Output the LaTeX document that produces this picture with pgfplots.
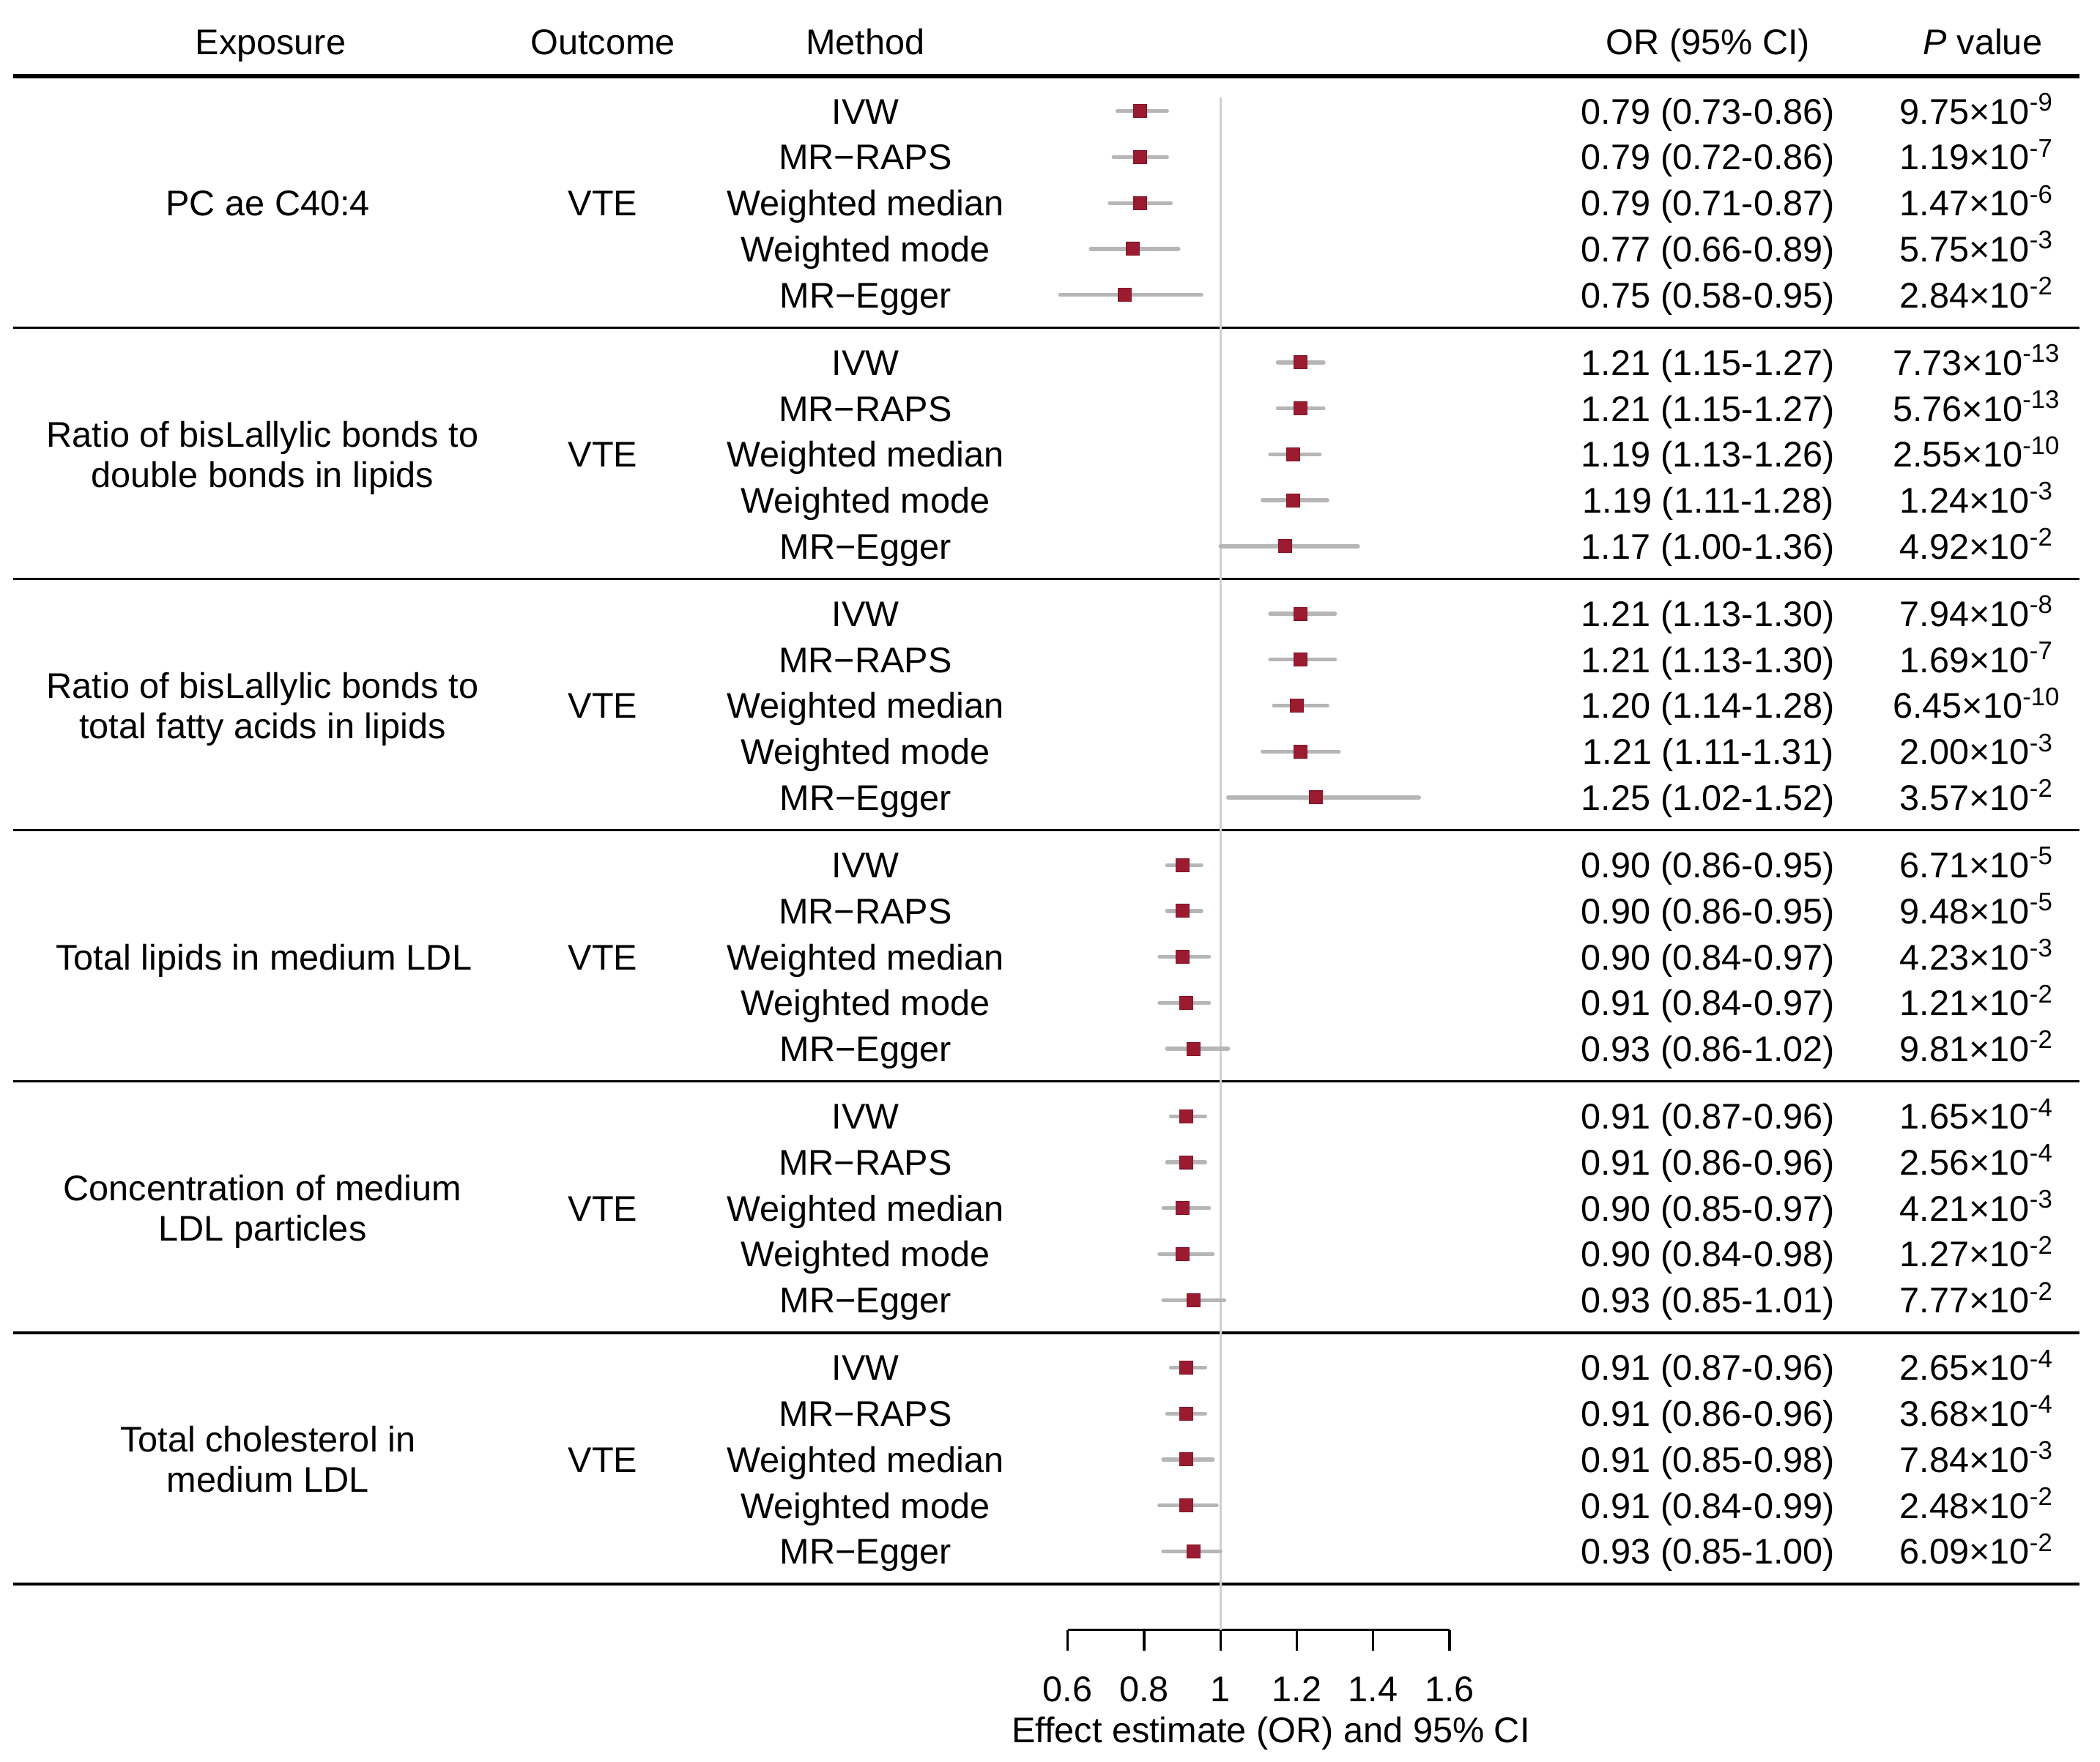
\documentclass[border=0pt]{standalone}
\usepackage{fontspec}
\setmainfont{Liberation Sans}
\usepackage{pgfplots}
\pgfplotsset{compat=1.18}
\usepackage{pgfplotstable}

\definecolor{ptred}{RGB}{155,27,48}
\definecolor{cigrey}{RGB}{182,182,182}
\definecolor{refgrey}{RGB}{208,208,208}

% superscript exponent for the p values
\newcommand{\sps}[1]{\raisebox{4.8pt}{\fontsize{9.5}{10}\selectfont #1}}
\newcommand{\pv}[2]{#1×10\sps{-#2}}

% row position (px from top, row centre), OR, lower and upper CI
\pgfplotstableread{
y       or    lo    hi
-83.0   0.79  0.73  0.86
-117.3  0.79  0.72  0.86
-151.6  0.79  0.71  0.87
-185.9  0.77  0.66  0.89
-220.2  0.75  0.58  0.95
-270.6  1.21  1.15  1.27
-304.9  1.21  1.15  1.27
-339.2  1.19  1.13  1.26
-373.5  1.19  1.11  1.28
-407.8  1.17  1.00  1.36
-458.2  1.21  1.13  1.30
-492.5  1.21  1.13  1.30
-526.8  1.20  1.14  1.28
-561.1  1.21  1.11  1.31
-595.4  1.25  1.02  1.52
-645.8  0.90  0.86  0.95
-680.1  0.90  0.86  0.95
-714.4  0.90  0.84  0.97
-748.7  0.91  0.84  0.97
-783.0  0.93  0.86  1.02
-833.4  0.91  0.87  0.96
-867.7  0.91  0.86  0.96
-902.0  0.90  0.85  0.97
-936.3  0.90  0.84  0.98
-970.6  0.93  0.85  1.01
-1021.0 0.91  0.87  0.96
-1055.3 0.91  0.86  0.96
-1089.6 0.91  0.85  0.98
-1123.9 0.91  0.84  0.99
-1158.2 0.93  0.85  1.00
}\mr

\begin{document}
\fontsize{13.3}{16}\selectfont
\begin{tikzpicture}
% table part, in px of the reference (y downwards); axis corner (797,1217) = origin
\begin{scope}[x=0.5pt,y=-0.5pt,shift={(-398.5pt,608.5pt)},every node/.style={anchor=base,inner sep=0pt}]
  \draw[line width=1.65pt] (10,57) -- (1552,57);
  \foreach \yy in {244.6,432.2,619.8,807.4,995.0,1182.6}
    \draw[line width=0.9pt] (10,\yy) -- (1552,\yy);
  % header
  \node at (202,41) {Exposure};
  \node at (450,41) {Outcome};
  \node at (646,41) {Method};
  \node at (1275,41) {OR (95\% CI)};
  \node at (1480,41) {\textit{P} value};
  % exposures
  \node at (200,161.1) {PC ae C40:4};
  \node at (196,333.7) {Ratio of bisLallylic bonds to};
  \node at (196,363.7) {double bonds in lipids};
  \node at (196,521.3) {Ratio of bisLallylic bonds to};
  \node at (196,551.3) {total fatty acids in lipids};
  \node at (197,723.9) {Total lipids in medium LDL};
  \node at (196,896.5) {Concentration of medium};
  \node at (196,926.5) {LDL particles};
  \node at (200,1084.1) {Total cholesterol in};
  \node at (200,1114.1) {medium LDL};
  % outcome and method
  \foreach \g in {0,...,5} {
    \node at (450,{92.5+\g*187.6+2*34.3}) {VTE};
    \foreach \m [count=\r from 0] in {IVW,MR−RAPS,Weighted median,Weighted mode,MR−Egger}
      \node at (646,{92.5+\g*187.6+\r*34.3}) {\m};
  }
  % OR (95% CI)
  \foreach \txt [count=\i from 0] in {
    0.79 (0.73-0.86),0.79 (0.72-0.86),0.79 (0.71-0.87),0.77 (0.66-0.89),0.75 (0.58-0.95),
    1.21 (1.15-1.27),1.21 (1.15-1.27),1.19 (1.13-1.26),1.19 (1.11-1.28),1.17 (1.00-1.36),
    1.21 (1.13-1.30),1.21 (1.13-1.30),1.20 (1.14-1.28),1.21 (1.11-1.31),1.25 (1.02-1.52),
    0.90 (0.86-0.95),0.90 (0.86-0.95),0.90 (0.84-0.97),0.91 (0.84-0.97),0.93 (0.86-1.02),
    0.91 (0.87-0.96),0.91 (0.86-0.96),0.90 (0.85-0.97),0.90 (0.84-0.98),0.93 (0.85-1.01),
    0.91 (0.87-0.96),0.91 (0.86-0.96),0.91 (0.85-0.98),0.91 (0.84-0.99),0.93 (0.85-1.00)} {
    \pgfmathsetmacro\yy{92.5+floor(\i/5)*187.6+mod(\i,5)*34.3}
    \node at (1275,\yy) {\txt};
  }
  % P value
  \foreach \txt [count=\i from 0] in {
    \pv{9.75}{9},\pv{1.19}{7},\pv{1.47}{6},\pv{5.75}{3},\pv{2.84}{2},
    \pv{7.73}{13},\pv{5.76}{13},\pv{2.55}{10},\pv{1.24}{3},\pv{4.92}{2},
    \pv{7.94}{8},\pv{1.69}{7},\pv{6.45}{10},\pv{2.00}{3},\pv{3.57}{2},
    \pv{6.71}{5},\pv{9.48}{5},\pv{4.23}{3},\pv{1.21}{2},\pv{9.81}{2},
    \pv{1.65}{4},\pv{2.56}{4},\pv{4.21}{3},\pv{1.27}{2},\pv{7.77}{2},
    \pv{2.65}{4},\pv{3.68}{4},\pv{7.84}{3},\pv{2.48}{2},\pv{6.09}{2}} {
    \pgfmathsetmacro\yy{92.5+floor(\i/5)*187.6+mod(\i,5)*34.3}
    \node at (1475,\yy) {\txt};
  }
\end{scope}

\begin{axis}[
  at={(0,0)}, anchor=south west,
  x=142.5pt, y=0.5pt,
  xmin=0.6, xmax=1.6, ymin=-1217, ymax=-57,
  axis x line*=bottom, axis y line=none,
  clip=false,
  xtick={0.6,0.8,1,1.2,1.4,1.6},
  xticklabels={0.6,0.8,1,1.2,1.4,1.6},
  ytick=\empty,
  tick align=outside,
  major tick length=7.8pt,
  tick style={black,line width=0.85pt},
  axis line style={black,line width=0.85pt},
  xticklabel style={anchor=base,inner sep=0pt,font=\fontsize{13.3}{16}\selectfont},
  xticklabel shift=19pt,
  xlabel={Effect estimate (OR) and 95\% CI},
  xlabel style={at={(0.5316,-0.0724)},anchor=base,inner sep=0pt,font=\fontsize{13.3}{16}\selectfont},
]
\addplot[refgrey, line width=0.8pt, forget plot] coordinates {(1,-73) (1,-1217)};
\addplot[only marks, mark=none, forget plot,
  error bars/.cd, x dir=both, x explicit, error mark=none,
  error bar style={draw=cigrey, line width=1.45pt, line cap=round}]
  table[x=or, y=y, x error plus expr=\thisrow{hi}-\thisrow{or}, x error minus expr=\thisrow{or}-\thisrow{lo}] {\mr};
\addplot[only marks, mark=square*, mark size=2.45pt,
  mark options={fill=ptred, draw=ptred!85!black, line width=0.3pt}]
  table[x=or, y=y] {\mr};
\end{axis}

\begin{scope}[x=0.5pt,y=-0.5pt,shift={(-398.5pt,608.5pt)}]
  \pgfresetboundingbox
  \path[use as bounding box] (0,0) rectangle (1567.5,1315);
\end{scope}
\end{tikzpicture}
\end{document}
